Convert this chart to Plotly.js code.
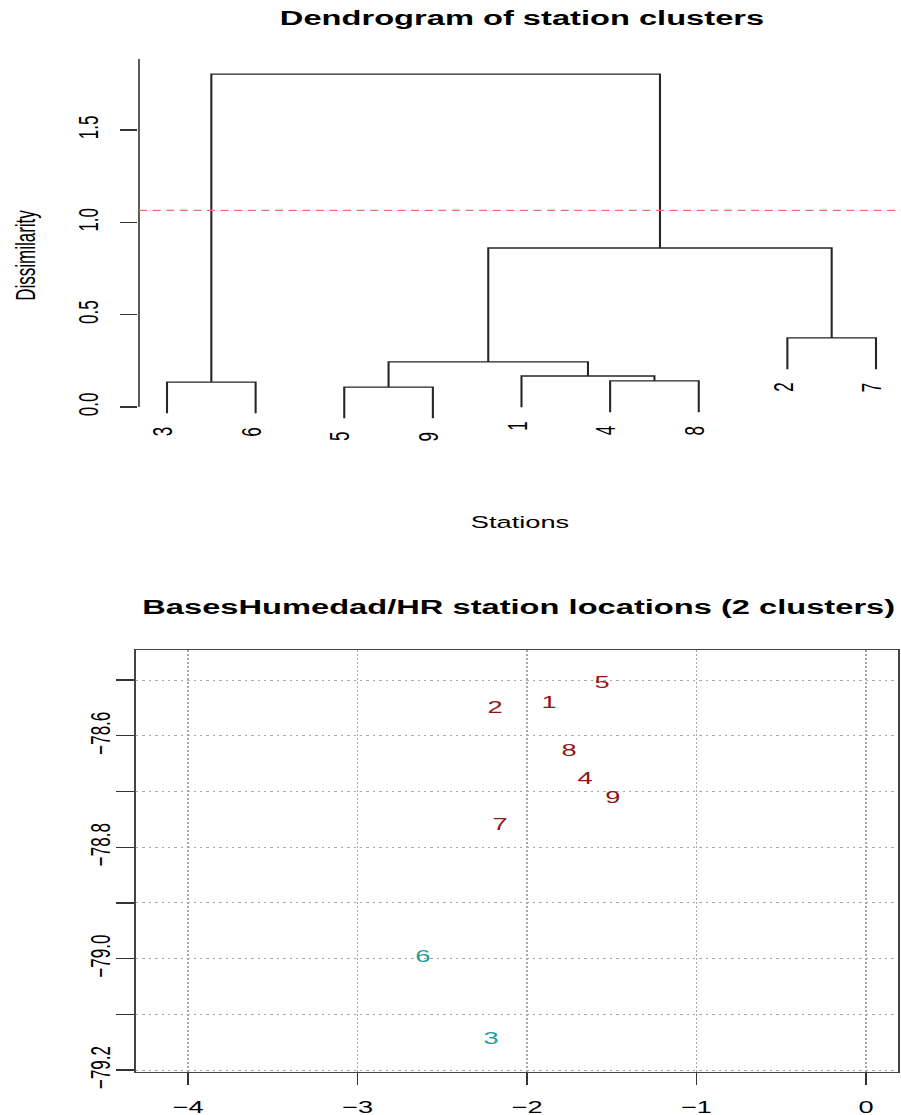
<!DOCTYPE html>
<html>
<head>
<meta charset="utf-8">
<script src="https://cdn.plot.ly/plotly-3.0.1.min.js"></script>
<style>
html, body { margin: 0; padding: 0; background: #ffffff; overflow: hidden; }
#plot { width: 563px; height: 1115px; transform-origin: 0 0; }
</style>
</head>
<body>
<div id="plot"></div>
<script>
// ---------------- Dendrogram data (hclust-style merge matrix) ----------------
const leafOrder = [3, 6, 5, 9, 1, 4, 8, 2, 7];
const mergeA = [-5, -4, -3, -1, 1, -2, 5, 3];
const mergeB = [-9, -8, -6, 2, 4, -7, 6, 7];
const mergeHeight = [0.108, 0.141, 0.135, 0.168, 0.244, 0.374, 0.861, 1.803];
const cutHeight = 1.065;
const dendroYTicks = [0, 0.5, 1.0, 1.5];
const dendroYTickText = ['0.0', '0.5', '1.0', '1.5'];

// ---------------- Station locations ----------------
const stationLabels = ['1', '2', '3', '4', '5', '6', '7', '8', '9'];
const stationX = [-1.870, -2.189, -2.212, -1.658, -1.557, -2.614, -2.159, -1.752, -1.493];
const stationY = [-78.543, -78.552, -79.146, -78.679, -78.507, -78.998, -78.761, -78.629, -78.713];
const stationCluster = [1, 1, 2, 1, 1, 2, 1, 1, 1];
const scatterXTicks = [-4, -3, -2, -1, 0];
const scatterYTicks = [-79.2, -79.1, -79.0, -78.9, -78.8, -78.7, -78.6, -78.5];
const scatterYTickText = ['\u221279.2', '', '\u221279.0', '', '\u221278.8', '', '\u221278.6', ''];

// ---------------- Styles ----------------
// The original R figure is stretched horizontally; draw narrower and scale the page in x.
const W = 901, H = 1115;
const WP = 563;                 // plotting width before horizontal stretch
const SX = W / WP;              // horizontal stretch (~1.6)
document.getElementById('plot').style.transform = 'scaleX(' + SX + ')';
const hx = p => p / SX;         // horizontal screen pixels -> pre-stretch pixels

const clusterColors = {1: '#8e1616', 2: '#1f9c9c'};
const FONT = 'Liberation Sans, Arial, Helvetica, sans-serif';
const px2fx = p => p / W;
const px2fy = p => (H - p) / H;

// ---------------- Build dendrogram segments ----------------
const pos = {};
leafOrder.forEach((l, i) => { pos[l] = i + 1; });
const hang = 0.1 * (Math.max(...mergeHeight) - Math.min(...mergeHeight));
const nodeX = [];
const leafEnd = {};
const segX = [], segY = [];
function child(c, h) {
  if (c < 0) {
    leafEnd[-c] = h - hang;
    return {x: pos[-c], y: h - hang};
  }
  return {x: nodeX[c - 1], y: mergeHeight[c - 1]};
}
for (let k = 0; k < mergeHeight.length; k++) {
  const h = mergeHeight[k];
  const a = child(mergeA[k], h);
  const b = child(mergeB[k], h);
  segX.push(a.x, a.x, b.x, b.x, null);
  segY.push(a.y, h, h, b.y, null);
  nodeX[k] = (a.x + b.x) / 2;
}

// axis geometry (pixel calibration of the original figure)
const leafPx0 = 167, leafStep = 88.625, axisPx = 139;
const xRange1 = [1 - (leafPx0 - axisPx) / leafStep, 1 + (W - leafPx0) / leafStep];
const yPerPx1 = 1 / 184.67, zeroPx1 = 407, topPx1 = 59, botPx1 = 452;
const yRange1 = [(zeroPx1 - botPx1) * yPerPx1, (zeroPx1 - topPx1) * yPerPx1];

const traces = [
  {
    type: 'scatter', mode: 'lines', x: segX, y: segY,
    xaxis: 'x', yaxis: 'y',
    line: {color: '#262626', width: 1.3},
    hoverinfo: 'skip'
  },
  {
    type: 'scatter', mode: 'text', x: stationX, y: stationY,
    text: stationLabels,
    xaxis: 'x2', yaxis: 'y2',
    textposition: 'middle center',
    textfont: {family: FONT, size: 17, color: stationCluster.map(c => clusterColors[c])},
    hoverinfo: 'skip'
  }
];

const annotations = [
  {
    xref: 'paper', yref: 'paper', x: px2fx(518), y: px2fy(607),
    xanchor: 'center', yanchor: 'middle', showarrow: false,
    text: 'BasesHumedad/HR station locations (2 clusters)',
    font: {family: FONT, size: 20.4, weight: 'bold', color: '#000'}
  }
];
leafOrder.forEach(l => {
  annotations.push({
    xref: 'x', yref: 'y', x: pos[l], y: leafEnd[l],
    text: String(l), showarrow: false, textangle: -90,
    xanchor: 'center', yanchor: 'top', yshift: -12, xshift: hx(-3),
    font: {family: FONT, size: 17, color: '#000'}
  });
});

const gridStyle = {showgrid: true, gridcolor: '#a8a8a8', griddash: '1.5px,2.5px', gridwidth: 1};

const layout = {
  width: WP, height: H,
  margin: {l: 0, r: 0, t: 0, b: 0},
  paper_bgcolor: '#ffffff', plot_bgcolor: '#ffffff',
  showlegend: false,
  font: {family: FONT, color: '#000'},
  title: {
    text: 'Dendrogram of station clusters',
    x: px2fx(522), xanchor: 'center', xref: 'paper',
    y: px2fy(18), yanchor: 'middle', yref: 'paper',
    font: {family: FONT, size: 20.4, weight: 'bold', color: '#000'}
  },
  xaxis: {
    domain: [px2fx(axisPx), 1], range: xRange1, anchor: 'y',
    showgrid: false, zeroline: false, showline: false, ticks: '', showticklabels: false,
    title: {text: 'Stations', font: {family: FONT, size: 17}, standoff: 64}
  },
  yaxis: {
    domain: [px2fy(botPx1), px2fy(topPx1)], range: yRange1, anchor: 'x',
    showgrid: false, zeroline: false, showline: false,
    tickmode: 'array', tickvals: dendroYTicks, ticktext: dendroYTickText,
    ticks: 'outside', ticklen: hx(17), tickwidth: 1.4, tickcolor: '#333',
    tickangle: -90, tickfont: {family: FONT, size: 17}, ticklabelstandoff: 7,
    title: {text: 'Dissimilarity', font: {family: FONT, size: 17}, standoff: 19}
  },
  xaxis2: Object.assign({
    domain: [px2fx(136), px2fx(898)], range: [-4.307, 0.189], anchor: 'y2',
    zeroline: false, showline: true, mirror: true, linecolor: '#444', linewidth: 1.3,
    tickmode: 'array', tickvals: scatterXTicks,
    ticks: 'outside', ticklen: 12, tickwidth: 1, tickcolor: '#333',
    tickfont: {family: FONT, size: 17}, ticklabelstandoff: 7
  }, gridStyle),
  yaxis2: Object.assign({
    domain: [px2fy(1072), px2fy(650)], range: [-79.2035, -78.446], anchor: 'x2',
    zeroline: false, showline: true, mirror: true, linecolor: '#444', linewidth: 1.3,
    tickmode: 'array', tickvals: scatterYTicks, ticktext: scatterYTickText,
    ticks: 'outside', ticklen: hx(18), tickwidth: 1.4, tickcolor: '#333',
    tickangle: -90, tickfont: {family: FONT, size: 17}, ticklabelstandoff: -3
  }, gridStyle),
  shapes: [
    {type: 'line', xref: 'x domain', x0: 0, x1: 0, yref: 'y', y0: 0, y1: yRange1[1],
     line: {color: '#333', width: 1}},
    {type: 'line', xref: 'x domain', x0: 0, x1: 1, yref: 'y', y0: cutHeight, y1: cutHeight,
     line: {color: '#f07070', width: 1.2, dash: '5px,3.5px'}}
  ],
  annotations: annotations
};

Plotly.newPlot('plot', traces, layout, {staticPlot: true, displayModeBar: false});
</script>
</body>
</html>
